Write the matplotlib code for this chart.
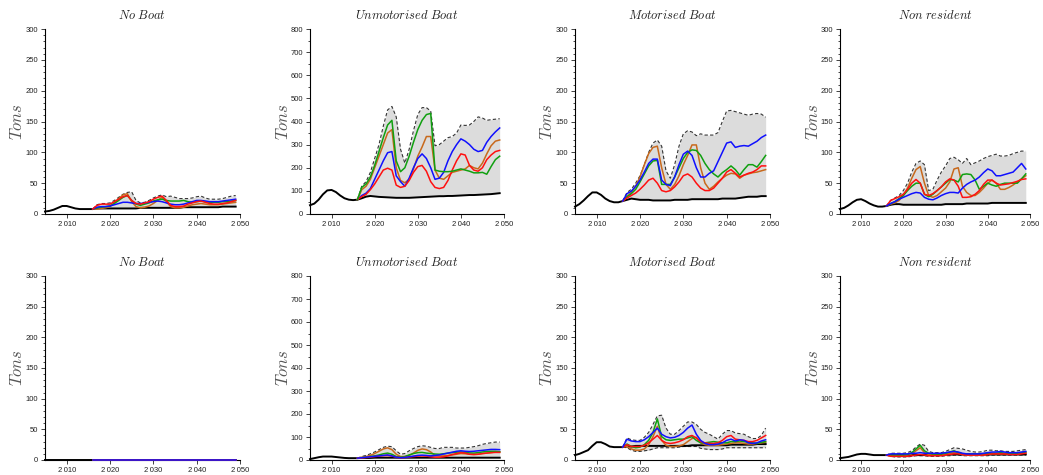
import matplotlib
matplotlib.use("Agg")
import matplotlib.pyplot as plt
from matplotlib.ticker import AutoMinorLocator, FixedLocator

plt.rcParams['mathtext.fontset'] = 'cm'
plt.rcParams['font.family'] = ['Liberation Sans', 'DejaVu Sans']

YEARS = list(range(2005, 2050))
PROJ = list(range(2016, 2050))
XTICKS = [2010, 2020, 2030, 2040, 2050]
XTICKLABELS = ["2\u2009010", "2\u2009020", "2\u2009030", "2\u2009040", "2\u2009050"]
TITLES = ["No Boat", "Unmotorised Boat", "Motorised Boat", "Non resident"]
YMAX = [300, 800, 300, 300]

# ---------------- Row 1 ----------------
r1_nb_black = [4, 5, 7, 10, 13, 13, 11, 9, 8, 8, 8, 8,
               9, 9, 9, 9, 9, 9, 9, 9, 9, 9, 10, 10, 10, 10, 10, 10, 10, 10, 10, 10,
               11, 11, 11, 11, 11, 11, 11, 11, 11, 12, 12, 12, 12]
r1_nb_red = [8, 14, 16, 16, 16, 20, 24, 28, 30, 22, 17, 16, 18, 20, 24, 27, 29, 22, 14, 12,
             12, 13, 16, 18, 20, 21, 19, 17, 16, 16, 17, 18, 20, 22]
r1_nb_green = [8, 10, 11, 12, 13, 17, 22, 27, 30, 22, 16, 14, 16, 18, 21, 23, 24, 22, 21, 21,
               21, 22, 20, 19, 20, 21, 20, 19, 19, 19, 20, 20, 21, 22]
r1_nb_orange = [8, 8, 9, 10, 12, 18, 25, 31, 33, 20, 12, 10, 11, 13, 17, 22, 27, 20, 12, 10,
                10, 11, 13, 15, 16, 17, 16, 15, 15, 15, 16, 17, 18, 19]
r1_nb_blue = [8, 11, 12, 12, 13, 15, 17, 19, 19, 18, 17, 17, 18, 19, 20, 21, 20, 18, 16, 15,
              15, 16, 18, 20, 22, 22, 21, 20, 20, 20, 21, 22, 23, 24]
r1_nb_upper = [8, 15, 17, 17, 18, 22, 27, 32, 35, 36, 22, 18, 19, 22, 26, 29, 31, 28, 29, 27,
               25, 25, 25, 26, 28, 29, 26, 24, 24, 24, 25, 27, 29, 30]

r1_ub_black = [38, 45, 62, 85, 102, 104, 95, 80, 68, 62, 60, 62,
               68, 75, 78, 76, 74, 73, 72, 71, 70, 70, 70, 70, 71, 72, 73, 74, 75, 76, 77, 77,
               78, 78, 79, 80, 81, 82, 82, 83, 84, 85, 86, 88, 90]
r1_ub_green = [62, 115, 130, 160, 210, 270, 330, 385, 405, 230, 183, 200, 250, 310, 365, 405,
               430, 435, 190, 185, 183, 183, 185, 190, 195, 190, 185, 178, 178, 180, 172, 205,
               235, 250]
r1_ub_orange = [62, 105, 120, 150, 200, 250, 300, 350, 365, 200, 145, 135, 150, 195, 250, 290,
                335, 335, 190, 155, 150, 165, 180, 185, 190, 195, 210, 200, 195, 220, 260, 295,
                315, 320]
r1_ub_blue = [62, 80, 90, 110, 150, 190, 230, 265, 270, 165, 140, 120, 155, 200, 240, 260,
              240, 200, 150, 155, 180, 230, 270, 300, 325, 315, 300, 280, 270, 275, 310, 335,
              355, 372]
r1_ub_red = [62, 75, 85, 105, 130, 160, 190, 198, 190, 125, 115, 120, 145, 180, 205, 210,
             185, 140, 115, 110, 115, 145, 190, 230, 260, 255, 210, 190, 185, 200, 235, 255,
             270, 275]
r1_ub_upper = [62, 120, 140, 180, 240, 300, 380, 450, 465, 420, 280, 220, 280, 360, 430, 460,
               460, 445, 295, 300, 315, 330, 335, 350, 385, 383, 385, 400, 420, 415, 405, 408,
               410, 412]

r1_mb_black = [12, 16, 22, 29, 35, 35, 31, 25, 21, 19, 19, 21,
               23, 25, 24, 23, 23, 23, 22, 22, 22, 22, 22, 23, 23, 23, 23, 24, 24, 24, 24, 24,
               24, 24, 25, 25, 25, 25, 26, 27, 28, 28, 28, 29, 29]
r1_mb_blue = [21, 33, 37, 45, 55, 68, 82, 89, 89, 55, 48, 46, 60, 80, 97, 102, 95, 75, 60, 60,
              66, 70, 85, 100, 115, 117, 108, 110, 111, 110, 114, 118, 124, 128]
r1_mb_orange = [21, 28, 35, 45, 60, 80, 98, 108, 110, 75, 48, 40, 48, 62, 80, 95, 112, 112, 75,
                50, 40, 45, 52, 58, 63, 66, 65, 58, 63, 65, 67, 68, 70, 72]
r1_mb_green = [21, 28, 33, 40, 52, 65, 78, 86, 87, 48, 48, 48, 60, 75, 90, 100, 104, 103, 95,
               82, 72, 65, 60, 67, 72, 78, 72, 63, 72, 80, 80, 76, 85, 95]
r1_mb_red = [21, 26, 30, 34, 40, 47, 55, 58, 50, 38, 36, 38, 44, 52, 62, 65, 60, 50, 42, 38,
             38, 42, 50, 58, 68, 72, 66, 60, 63, 66, 68, 72, 78, 78]
r1_mb_upper = [21, 35, 40, 50, 62, 80, 100, 115, 120, 110, 70, 58, 80, 110, 130, 135, 133, 127,
               130, 128, 128, 128, 132, 150, 167, 168, 166, 164, 162, 160, 162, 163, 162, 157]

r1_nr_black = [8, 10, 14, 19, 23, 24, 21, 17, 14, 12, 12, 13,
               15, 16, 16, 15, 15, 15, 15, 15, 15, 15, 15, 15, 15, 16, 16, 16, 16, 16, 17, 17,
               17, 17, 17, 17, 18, 18, 18, 18, 18, 18, 18, 18, 18]
r1_nr_orange = [13, 16, 18, 22, 30, 42, 58, 72, 77, 50, 30, 27, 30, 36, 42, 52, 73, 75, 45, 35,
                30, 30, 35, 42, 50, 55, 50, 40, 40, 43, 47, 52, 57, 62]
r1_nr_red = [13, 22, 25, 28, 32, 40, 50, 56, 50, 32, 30, 33, 38, 44, 52, 57, 55, 45, 27, 27,
             28, 32, 38, 48, 55, 55, 50, 47, 48, 49, 51, 53, 56, 57]
r1_nr_green = [13, 17, 20, 25, 30, 38, 45, 50, 50, 32, 28, 32, 38, 44, 50, 56, 55, 52, 64, 65,
               64, 55, 40, 45, 50, 47, 45, 48, 50, 50, 50, 50, 57, 65]
r1_nr_blue = [13, 17, 20, 24, 27, 30, 33, 35, 34, 27, 24, 23, 26, 30, 33, 35, 35, 34, 42, 48,
              52, 55, 60, 67, 73, 70, 62, 62, 64, 66, 68, 75, 82, 73]
r1_nr_upper = [13, 22, 26, 30, 38, 50, 68, 82, 86, 80, 38, 40, 55, 68, 78, 90, 92, 88, 82, 90,
               80, 83, 86, 90, 93, 95, 97, 94, 94, 95, 98, 100, 102, 102]

# ---------------- Row 2 ----------------
r2_nb_black = [0, 0, 0, 0, 0, 0, 0, 0, 0, 0, 0, 0, 0, 0, 0, 0, 0, 0, 0, 0, 0, 0, 0,
               0, 0, 0, 0, 0, 0, 0, 0, 0, 0, 0, 0, 0, 0, 0, 0, 0, 0, 0, 0, 0, 0]
r2_nb_orange = [0, 0, 0, 0, 0, 0, 0, 0, 0, 0, 0, 0, 0, 0, 0, 0, 0,
                0, 0, 0, 0, 0, 0, 0, 0, 0, 0, 0, 0, 0, 0, 0, 0, 0]
r2_nb_green = [0, 0, 0, 0, 0, 0, 0, 0, 0, 0, 0, 0, 0, 0, 0, 0, 0,
               0, 0, 0, 0, 0, 0, 0, 0, 0, 0, 0, 0, 0, 0, 0, 0, 0]
r2_nb_red = [0, 0, 0, 0, 0, 0, 0, 0, 0, 0, 0, 0, 0, 0, 0, 0, 0,
             0, 0, 0, 0, 0, 0, 0, 0, 0, 0, 0, 0, 0, 0, 0, 0, 0]
r2_nb_blue = [0, 0, 0, 0, 0, 0, 0, 0, 0, 0, 0, 0, 0, 0, 0, 0, 0,
              0, 0, 0, 0, 0, 0, 0, 0, 0, 0, 0, 0, 0, 0, 0, 0, 0]
r2_nb_upper = [0, 0, 0, 0, 0, 0, 0, 0, 0, 0, 0, 0, 0, 0, 0, 0, 0,
               0, 0, 0, 0, 0, 0, 0, 0, 0, 0, 0, 0, 0, 0, 0, 0, 0]

r2_ub_black = [4, 8, 12, 15, 15, 15, 13, 11, 9, 8, 8, 8,
               9, 9, 9, 10, 10, 10, 10, 10, 10, 10, 10, 10, 10, 10, 10, 10, 10, 10, 10, 10,
               10, 10, 10, 10, 10, 10, 10, 10, 10, 10, 10, 10, 10]
r2_ub_orange = [8, 12, 15, 20, 28, 38, 48, 53, 45, 25, 15, 15, 20, 30, 42, 48, 45, 35, 20, 18,
                18, 20, 22, 25, 28, 27, 25, 24, 25, 28, 30, 32, 35, 35]
r2_ub_green = [8, 10, 12, 15, 18, 22, 27, 30, 25, 15, 12, 15, 22, 28, 32, 33, 30, 28, 26, 25,
               27, 30, 32, 34, 35, 33, 31, 30, 32, 35, 37, 38, 38, 36]
r2_ub_blue = [8, 10, 12, 14, 16, 18, 20, 22, 18, 12, 10, 11, 14, 17, 20, 21, 20, 18, 20, 22,
              26, 30, 34, 38, 40, 38, 37, 38, 40, 42, 44, 46, 46, 45]
r2_ub_red = [8, 9, 11, 13, 15, 17, 19, 20, 17, 12, 10, 11, 13, 15, 17, 18, 17, 14, 12, 12,
             14, 18, 24, 28, 32, 30, 25, 24, 25, 28, 30, 32, 33, 33]
r2_ub_upper = [8, 15, 20, 27, 35, 45, 55, 60, 58, 40, 25, 28, 40, 50, 58, 62, 60, 55, 50, 50,
               55, 55, 55, 52, 52, 52, 55, 58, 62, 68, 72, 75, 78, 78]

r2_mb_black = [8, 10, 13, 16, 23, 29, 29, 26, 22, 21, 21, 21,
               22, 22, 23, 23, 23, 23, 23, 23, 23, 23, 23, 23, 23, 23, 23, 24, 24, 24, 24, 24,
               24, 24, 24, 24, 25, 25, 25, 25, 25, 25, 26, 26, 26]
r2_mb_blue = [21, 34, 31, 30, 30, 33, 38, 45, 52, 42, 38, 36, 37, 40, 45, 52, 57, 42, 32, 27,
              25, 25, 26, 28, 32, 34, 31, 33, 32, 28, 27, 28, 31, 33]
r2_mb_green = [21, 26, 22, 20, 21, 25, 32, 45, 67, 38, 33, 32, 33, 34, 34, 36, 38, 32, 28, 28,
               29, 30, 29, 28, 28, 30, 30, 31, 30, 29, 28, 27, 29, 30]
r2_mb_orange = [21, 22, 18, 16, 16, 18, 25, 38, 55, 32, 24, 22, 22, 23, 25, 30, 35, 37, 28, 25,
                24, 24, 24, 25, 26, 27, 28, 28, 27, 26, 26, 27, 28, 29]
r2_mb_red = [21, 25, 22, 22, 22, 24, 28, 34, 40, 32, 28, 27, 28, 30, 33, 38, 40, 36, 30, 28,
             27, 27, 28, 32, 38, 40, 34, 33, 32, 30, 30, 32, 36, 40]
r2_mb_upper = [21, 36, 33, 32, 32, 37, 45, 58, 72, 73, 52, 42, 42, 48, 55, 62, 62, 58, 50, 45,
               42, 38, 34, 42, 48, 48, 44, 43, 42, 38, 35, 35, 40, 52]
r2_mb_lower = [21, 20, 16, 14, 14, 15, 16, 18, 20, 20, 20, 20, 20, 21, 22, 22, 22, 22, 19, 18,
               17, 17, 17, 18, 20, 20, 20, 20, 20, 20, 20, 20, 20, 20]

r2_nr_black = [3, 4, 5, 7, 9, 10, 10, 9, 8, 8, 8, 8,
               8, 8, 8, 8, 8, 8, 8, 8, 8, 8, 8, 8, 9, 9, 9, 9, 9, 9, 9, 9,
               9, 9, 9, 9, 9, 9, 9, 9, 9, 9, 9, 9, 9]
r2_nr_green = [8, 8, 8, 8, 8, 9, 12, 18, 24, 15, 11, 10, 10, 10, 11, 13, 15, 12, 10, 10,
               10, 10, 10, 10, 11, 11, 11, 12, 11, 11, 11, 11, 12, 13]
r2_nr_orange = [8, 7, 7, 7, 7, 8, 10, 15, 20, 12, 9, 8, 8, 8, 9, 11, 12, 11, 9, 8,
                8, 8, 8, 9, 9, 10, 10, 10, 10, 10, 10, 10, 11, 12]
r2_nr_blue = [8, 10, 10, 10, 10, 10, 11, 11, 12, 11, 11, 11, 11, 11, 12, 13, 14, 13, 11, 10,
              10, 10, 10, 11, 12, 13, 13, 14, 13, 12, 12, 12, 13, 14]
r2_nr_red = [8, 6, 6, 6, 6, 6, 7, 8, 9, 8, 7, 7, 7, 7, 8, 9, 10, 10, 9, 8,
             8, 8, 8, 8, 9, 10, 10, 10, 10, 9, 9, 9, 10, 11]
r2_nr_upper = [8, 11, 11, 11, 11, 12, 15, 21, 26, 24, 14, 12, 12, 12, 14, 17, 20, 19, 18, 16,
               14, 13, 13, 14, 16, 16, 15, 15, 14, 14, 14, 15, 16, 17]
r2_nr_lower = [8, 6, 5, 5, 5, 5, 6, 7, 7, 7, 6, 6, 6, 6, 7, 7, 8, 8, 7, 7,
               7, 7, 7, 7, 7, 8, 8, 8, 8, 8, 8, 8, 8, 8]

COLORS = {"orange": "#c8691c", "green": "#10a010", "red": "#ff1010", "blue": "#1010ff"}

panels = [
    # row, col, black, series dict, upper, lower
    (0, 0, r1_nb_black, {"orange": r1_nb_orange, "green": r1_nb_green, "blue": r1_nb_blue, "red": r1_nb_red}, r1_nb_upper, None),
    (0, 1, r1_ub_black, {"orange": r1_ub_orange, "blue": r1_ub_blue, "red": r1_ub_red, "green": r1_ub_green}, r1_ub_upper, None),
    (0, 2, r1_mb_black, {"orange": r1_mb_orange, "green": r1_mb_green, "red": r1_mb_red, "blue": r1_mb_blue}, r1_mb_upper, None),
    (0, 3, r1_nr_black, {"orange": r1_nr_orange, "green": r1_nr_green, "red": r1_nr_red, "blue": r1_nr_blue}, r1_nr_upper, None),
    (1, 0, r2_nb_black, {"orange": r2_nb_orange, "green": r2_nb_green, "red": r2_nb_red, "blue": r2_nb_blue}, r2_nb_upper, None),
    (1, 1, r2_ub_black, {"orange": r2_ub_orange, "green": r2_ub_green, "red": r2_ub_red, "blue": r2_ub_blue}, r2_ub_upper, None),
    (1, 2, r2_mb_black, {"orange": r2_mb_orange, "green": r2_mb_green, "red": r2_mb_red, "blue": r2_mb_blue}, r2_mb_upper, r2_mb_lower),
    (1, 3, r2_nr_black, {"orange": r2_nr_orange, "green": r2_nr_green, "red": r2_nr_red, "blue": r2_nr_blue}, r2_nr_upper, r2_nr_lower),
]

W, H = 1043, 475
fig = plt.figure(figsize=(W / 100, H / 100), dpi=100)

LEFTS = [45, 310, 575, 840]
RIGHTS = [240, 504, 770, 1030]
TOPS = [29, 276]
BOTTOMS = [214, 460]

for row, col, black, series, upper, lower in panels:
    l, r = LEFTS[col], RIGHTS[col]
    t, b = TOPS[row], BOTTOMS[row]
    ax = fig.add_axes([l / W, 1 - b / H, (r - l) / W, (b - t) / H])
    start = YEARS.index(PROJ[0])
    low = lower if lower is not None else black[start:]
    ax.fill_between(PROJ, low, upper, color="#dcdcdc", lw=0, zorder=1)
    ax.plot(PROJ, upper, color="#333333", lw=0.8, ls=(0, (3, 2)), zorder=2)
    if lower is not None:
        ax.plot(PROJ, lower, color="#333333", lw=0.8, ls=(0, (3, 2)), zorder=2)
    ax.plot(YEARS, black, color="black", lw=1.4, zorder=3, clip_on=False)
    for name, vals in series.items():
        ax.plot(PROJ, vals, color=COLORS[name], lw=1.1, zorder=4, clip_on=False)

    ax.set_xlim(2005, 2050)
    ax.set_ylim(0, YMAX[col])
    ax.xaxis.set_major_locator(FixedLocator(XTICKS))
    ax.set_xticklabels(XTICKLABELS)
    step = 100 if YMAX[col] == 800 else 50
    ax.set_yticks(list(range(0, YMAX[col] + 1, step)))
    ax.yaxis.set_minor_locator(AutoMinorLocator(2 if YMAX[col] == 800 else 5))
    for s in ("top", "right"):
        ax.spines[s].set_visible(False)
    for s in ("left", "bottom"):
        ax.spines[s].set_linewidth(0.8)
    ax.tick_params(axis="both", which="major", direction="out", length=3, width=0.6,
                   labelsize=5.5, pad=2, colors="#222222")
    ax.tick_params(axis="y", which="minor", direction="out", length=1.5, width=0.5)
    ax.set_title(r"$\mathit{" + TITLES[col].replace(" ", r"\ ") + "}$", fontsize=9, pad=7,
                 color="#222222")
    ax.set_ylabel(r"$\mathit{Tons}$", fontsize=12, color="#555555")
    ax.yaxis.set_label_coords(-0.10, 0.5)

fig.savefig("out.png", dpi=100)
